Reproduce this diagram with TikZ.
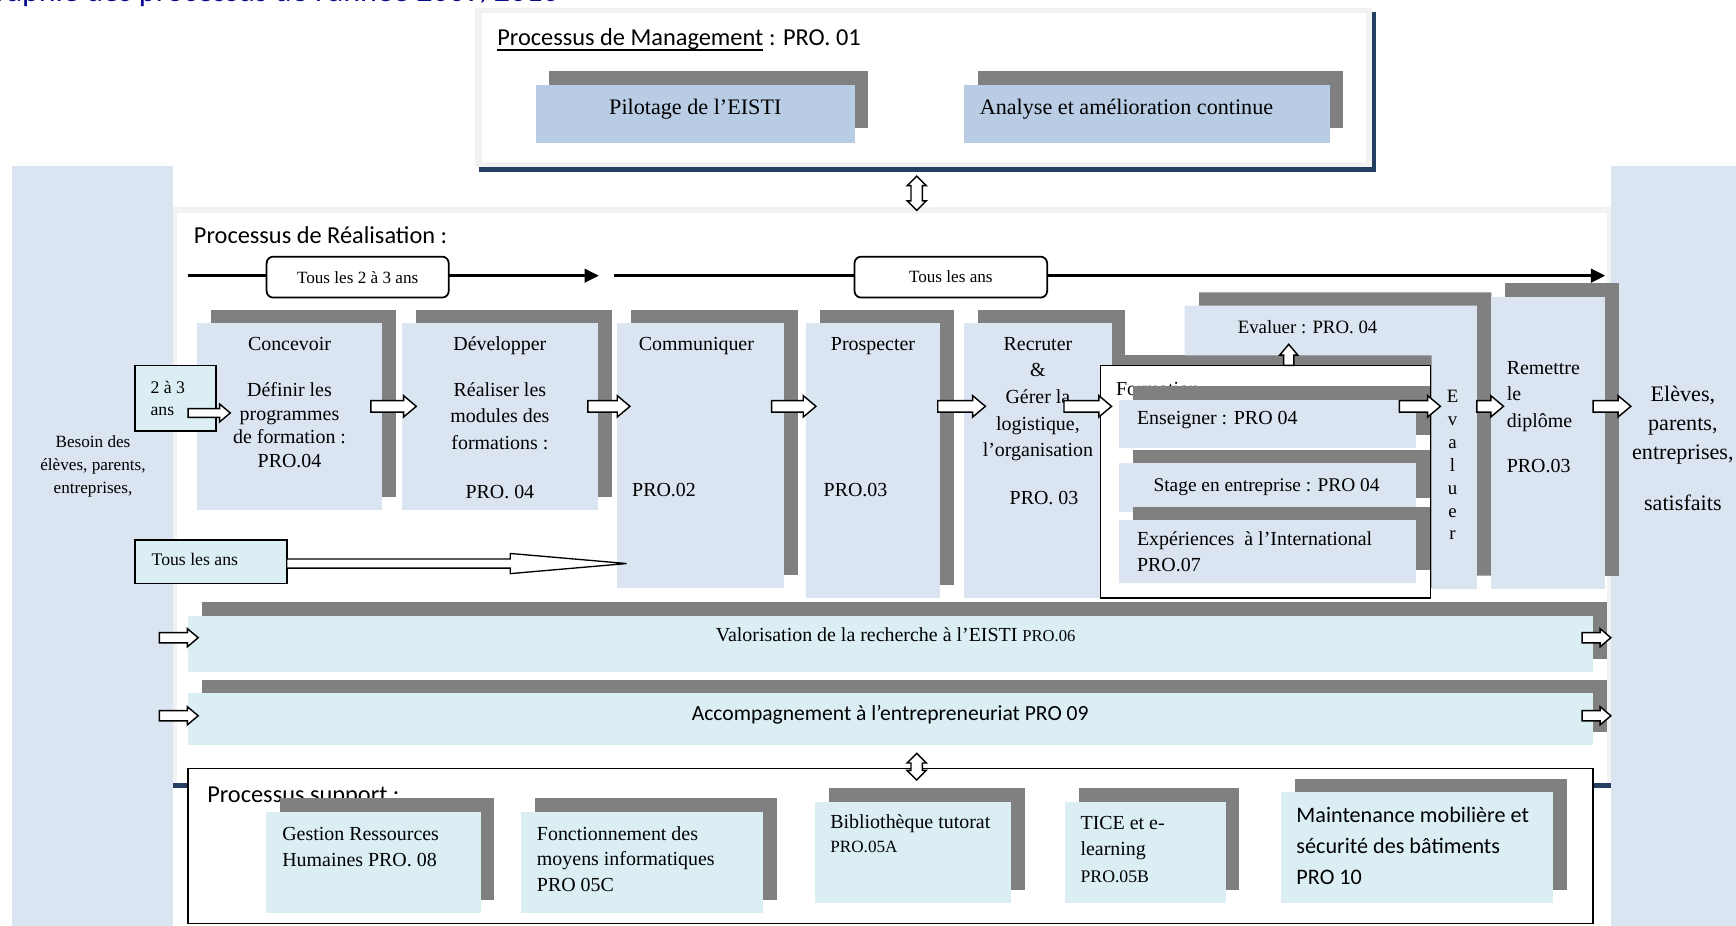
\documentclass[tikz,border=0pt]{standalone}
\usepackage{fontspec}
\setmainfont{Liberation Serif}
\newfontfamily\calib{Carlito}
\usetikzlibrary{shapes.arrows,shadows,arrows.meta}
\definecolor{lb}{RGB}{219,229,241}
\definecolor{mb}{RGB}{184,204,228}
\definecolor{cb}{RGB}{218,238,243}
\definecolor{sh}{RGB}{128,128,128}
\definecolor{fr}{RGB}{242,242,242}
\definecolor{db}{RGB}{36,63,96}
\definecolor{tb}{RGB}{10,10,140}
\newcommand{\mybox}[6]{\node[#2, anchor=north west, minimum width={#5-#3}, minimum height={#6-#4}] (#1) at (#3,#4) {};}
\newcommand{\fs}[2]{\fontsize{#1}{#2}\selectfont}
\begin{document}
\begin{tikzpicture}[x=1pt, y=-1pt,
 pbox/.style={fill=lb, inner sep=0pt, outer sep=0pt, general shadow={fill=sh, shadow xshift=12.5pt, shadow yshift=12pt}},
 mbox/.style={fill=mb, inner sep=0pt, outer sep=0pt, general shadow={fill=sh, shadow xshift=12pt, shadow yshift=13pt}},
 cbox/.style={fill=cb, inner sep=0pt, outer sep=0pt, general shadow={fill=sh, shadow xshift=12.5pt, shadow yshift=12pt}},
 panel/.style={fill=lb, inner sep=0pt, outer sep=0pt},
 tx/.style={inner sep=0pt, outer sep=0pt, anchor=base, font=\fs{18}{23}},
 txl/.style={tx, anchor=base west, align=left},
 txc/.style={tx, align=center},
 barrow/.style={single arrow, draw=black, fill=white, line width=1.3pt, inner sep=4.5pt, single arrow head extend=4.5pt, single arrow tip angle=80, minimum height=#1, anchor=tail, outer sep=0pt},
 darrow/.style={double arrow, draw=black, fill=white, line width=1.3pt, inner sep=4.5pt, double arrow head extend=3.5pt, double arrow tip angle=90, minimum height=#1, shape border rotate=90, outer sep=0pt},
 tl/.style={line width=3pt, -{Triangle[length=13pt,width=12pt]}},
 rbx/.style={draw=black, line width=1.6pt, fill=white, rounded corners=6pt, inner sep=0pt, font=\fs{15.5}{18}},
 frm/.style={draw=black, line width=1.5pt, inner sep=0pt, outer sep=0pt},
]
\useasboundingbox (0,0) rectangle (1568,836);
% title
\node[anchor=base east, inner sep=0pt, font=\calib\fs{29}{32}, text=tb] (title) at (505,1.5) {Cartographie des processus de l’année 2009/2010};
% side panels
\mybox{lpanel}{panel}{11}{150}{156}{836}
\mybox{rpanel}{panel}{1455}{150}{1568}{836}
\node[txc, font=\fs{15.5}{21}] (besoin) at (84,446) {Besoin des\\élèves, parents,\\entreprises,};
\node[txc, font=\fs{20}{26}] (sat) at (1520,460.7) {Elèves,\\parents,\\entreprises,\\[20pt]satisfaits};
% realisation frame
\fill[fr] (156,187) rectangle (1455,712);
\node[fill=white, anchor=north west, minimum width=1291, minimum height=515, inner sep=0pt] (real) at (160,192) {};
\fill[db] (156,707) rectangle (1455,712);
% management
\fill[db] (433,11) rectangle (1243,155);
\fill[fr] (429,7.5) rectangle (1239,151);
\node[fill=white, anchor=north west, minimum width=799, minimum height=134.5, inner sep=0pt] (mgmt) at (435,11.5) {};
\node[anchor=base west, inner sep=0pt, font=\calib\fs{22}{26}] (pm) at (449,41.5) {Processus de Management};
\node[anchor=base west, inner sep=0pt, font=\calib\fs{22}{26}] (pm2) at (pm.base east) {\kern5pt: PRO. 01};
\draw[line width=1.8pt] ([yshift=-4pt]pm.base west) -- ([yshift=-4pt]pm.base east);
\mybox{pil}{mbox}{484}{77}{772}{129}
\mybox{ana}{mbox}{871}{77}{1201}{129}
\node[tx, font=\fs{20}{24}] (pilT) at (628,103.5) {Pilotage de l’EISTI};
\node[tx, anchor=base west, font=\fs{20}{24}] (anaT) at (885,103.5) {Analyse et amélioration continue};
\node[darrow=31] (ud1) at (828,174.5) {};
% realisation
\node[anchor=base west, inner sep=0pt, font=\calib\fs{22}{26}] (realT) at (175,220) {Processus de Réalisation :};
\coordinate (a1s) at (170,249); \coordinate (a1e) at (541,249);
\coordinate (a2s) at (555,249); \coordinate (a2e) at (1450,249);
\draw[tl] (a1s) -- (a1e);
\draw[tl] (a2s) -- (a2e);
\node[rbx, anchor=north west, minimum width=164.5, minimum height=37] (t23) at (240,231) {Tous les 2 à 3 ans};
\node[rbx, anchor=north west, minimum width=174, minimum height=37] (tan) at (771,231) {Tous les ans};
% process boxes
\mybox{conc}{pbox}{178}{292}{345}{461}
\mybox{dev}{pbox}{363}{292}{540}{461}
\mybox{comm}{pbox}{557}{292}{708}{531}
\mybox{pros}{pbox}{728}{292}{849}{540}
\mybox{recr}{pbox}{871}{292}{1004}{540}
\node[txc, font=\fs{18}{21.5}] (concT) at (261.5,422.5) {Concevoir\\[19.5pt]Définir les\\programmes\\de formation :\\PRO.04};
\node[txc, font=\fs{18}{24}] (devT) at (451.5,450) {Développer\\[17pt]Réaliser les\\modules des\\formations :\\[20pt]PRO. 04};
\node[txl] (commT) at (577,317) {Communiquer};
\node[txl] (commP) at (571,448) {PRO.02};
\node[tx] (prosT) at (788.5,317) {Prospecter};
\node[txl] (prosP) at (744,448) {PRO.03};
\node[txc, font=\fs{18}{24}] (recrT) at (937.5,412.5) {Recruter\\\&\\Gérer la\\logistique,\\l’organisation};
\node[tx] (recrP) at (943,456) {PRO. 03};
% formation
\node[frm, fill=white, anchor=north west, minimum width=298, minimum height=210, general shadow={fill=sh, shadow xshift=10pt, shadow yshift=9pt}] (form) at (994,330) {};
\node[txl] (formT) at (1008,357.5) {Formation};
\mybox{ens}{pbox}{1011}{361}{1279}{405}
\mybox{stage}{pbox}{1011}{418}{1279}{462}
\mybox{exp}{pbox}{1011}{470}{1279}{527}
\node[txl] (ensT) at (1027,383) {Enseigner : PRO 04};
\node[tx, font=\fs{17.5}{22}] (stageT) at (1144,444) {Stage en entreprise : PRO 04};
\node[txl] (expT) at (1027,516) {Expériences \ à l’International\\PRO.07};
% evaluer
\path[fill=lb, general shadow={fill=sh, shadow xshift=13pt, shadow yshift=12pt}] (1070,276) -- (1334,276) -- (1334,532) -- (1293,532) -- (1293,321) -- (1070,321) -- cycle;
\node[tx, font=\fs{17}{21}] (evalT) at (1181,301) {Evaluer : PRO. 04};
\node[txc, font=\fs{17}{20.7}] (evalV) at (1312,487.7) {E\\v\\a\\l\\u\\e\\r};
\node[barrow=19, shape border rotate=90, inner sep=4pt, single arrow head extend=3.5pt] (upA) at (1164,330) {};
% remettre
\mybox{rem}{pbox}{1347}{268}{1450}{532}
\node[txl, font=\fs{18}{24}] (remT) at (1361,427) {Remettre\\le\\diplôme\\[17pt]PRO.03};
% small input boxes
\node[frm, fill=cb, anchor=north west, minimum width=73, minimum height=59] (b23) at (122,330) {};
\node[txl, font=\fs{16}{20}] (b23T) at (136,375.5) {2 à 3\\ans};
\node[frm, fill=cb, anchor=north west, minimum width=137, minimum height=39] (tla) at (122,488) {};
\node[txl, font=\fs{16}{20}] (tlaT) at (137,511) {Tous les ans};
% block arrows
\node[barrow=38, inner sep=3.3pt, single arrow head extend=4.2pt] (a0) at (170,373) {};
\node[barrow=41] (a1) at (335,367) {};
\node[barrow=38] (a2) at (531,367) {};
\node[barrow=40] (a3) at (697,367) {};
\node[barrow=43] (a4) at (847,367) {};
\node[barrow=43] (a5) at (961,367) {};
\node[barrow=37] (a6) at (1264,367) {};
\node[barrow=24] (a7) at (1334,367) {};
\node[barrow=34] (a8) at (1439,367) {};
\node[barrow=307, inner sep=3.5pt, single arrow head extend=5pt, single arrow tip angle=9.9, line width=1.2pt] (along) at (259,509) {};
% bars
\mybox{val}{cbox}{170}{556}{1439}{607}
\mybox{acc}{cbox}{170}{626}{1439}{673}
\node[tx] (valT) at (809,579) {Valorisation de la recherche à l’EISTI {\fs{15}{18}PRO.06}};
\node[tx, font=\calib\fs{19.5}{24}] (accT) at (804,650.5) {Accompagnement à l’entrepreneuriat PRO 09};
\node[barrow=35, inner sep=4pt, single arrow head extend=3.5pt] (v1) at (144,576) {};
\node[barrow=26, inner sep=4pt, single arrow head extend=3.5pt] (v2) at (1429,576) {};
\node[barrow=35, inner sep=4pt, single arrow head extend=3.5pt] (c1) at (144,646.5) {};
\node[barrow=26, inner sep=4pt, single arrow head extend=3.5pt] (c2) at (1429,646.5) {};
% support
\node[frm, line width=1.3pt, fill=white, anchor=north west, minimum width=1269, minimum height=140] (sup) at (170,694) {};
\node[darrow=24] (ud2) at (828,692.5) {};
\node[anchor=base west, inner sep=0pt, font=\calib\fs{22}{26}] (supT) at (187,725) {Processus support :};
\mybox{grh}{cbox}{240}{733}{434}{825}
\mybox{fmi}{cbox}{471}{733}{689}{825}
\mybox{bib}{cbox}{736}{724}{913}{816}
\mybox{tice}{cbox}{962}{724}{1107}{816}
\mybox{mnt}{cbox}{1157}{715.5}{1403}{816}
\node[txl, font=\fs{18}{24}] (grhT) at (255,783) {Gestion Ressources\\Humaines PRO. 08};
\node[txl, font=\fs{18}{23}] (fmiT) at (485,805) {Fonctionnement des\\moyens informatiques\\PRO 05C};
\node[txl, font=\fs{18}{22}] (bibT) at (750,770) {Bibliothèque tutorat\\{\fs{15.5}{18}PRO.05A}};
\node[txl, font=\fs{18}{24}] (ticeT) at (976,797) {TICE et e-\\learning\\{\fs{16}{18}PRO.05B}};
\node[txl, font=\calib\fs{20}{28}] (mntT) at (1171,798.5) {Maintenance mobilière et\\sécurité des bâtiments\\PRO 10};
\end{tikzpicture}
\end{document}
